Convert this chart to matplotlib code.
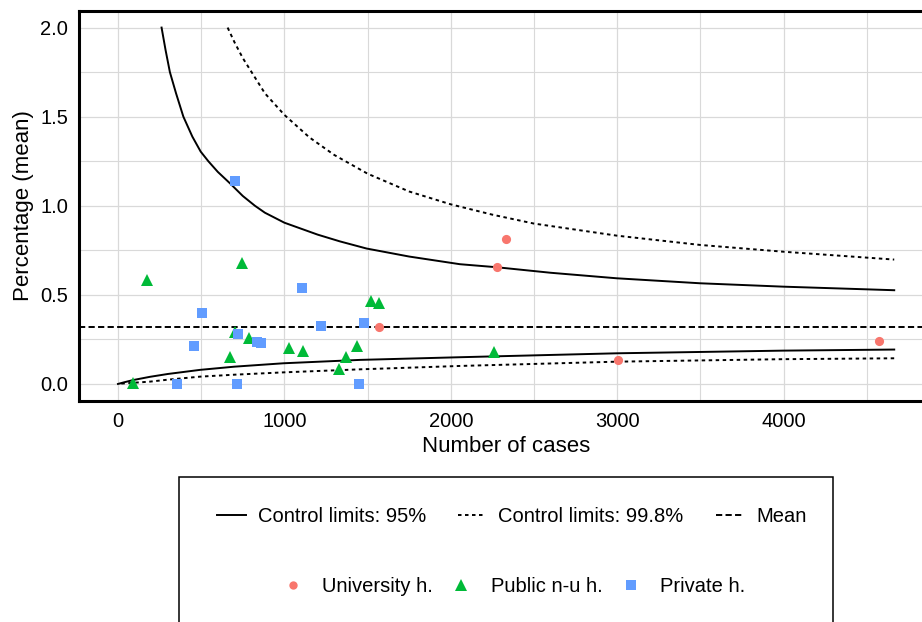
import matplotlib
matplotlib.use("Agg")
import matplotlib.pyplot as plt
from matplotlib.lines import Line2D
from matplotlib.patches import Rectangle
from matplotlib.ticker import MultipleLocator

plt.rcParams['font.family'] = ['Liberation Sans', 'DejaVu Sans']

# ---------------- data ----------------
mean_pct = 0.318

upper95_n = [262, 286, 312, 349, 393, 447, 497, 543, 600, 673, 750, 823, 883, 1000, 1200, 1334,
             1494, 1750, 2055, 2276, 2600, 2997, 3498, 3998, 4665]
upper95_v = [2.0, 1.874, 1.75, 1.631, 1.5, 1.388, 1.304, 1.25, 1.19, 1.126, 1.055, 1.0, 0.961, 0.905,
             0.838, 0.80, 0.76, 0.715, 0.672, 0.655, 0.624, 0.593, 0.565, 0.546, 0.526]

upper998_n = [659, 700, 750, 803, 883, 1000, 1150, 1300, 1500, 1750, 2000, 2250, 2500, 3000, 3500, 4000, 4665]
upper998_v = [2.0, 1.918, 1.829, 1.75, 1.631, 1.51, 1.384, 1.285, 1.18, 1.08, 1.008, 0.95, 0.90, 0.832,
              0.78, 0.742, 0.698]

lower95_n = [0, 40, 92, 192, 300, 493, 700, 994, 1454, 2055, 2997, 3998, 4665]
lower95_v = [0.0, 0.010, 0.022, 0.040, 0.056, 0.079, 0.097, 0.116, 0.135, 0.150, 0.172, 0.187, 0.193]

lower998_n = [20, 100, 192, 300, 493, 700, 994, 1454, 2055, 2997, 3998, 4665]
lower998_v = [0.002, 0.007, 0.013, 0.024, 0.041, 0.052, 0.065, 0.082, 0.101, 0.125, 0.139, 0.144]

univ_n = [1567, 2280, 2334, 3007, 4575]
univ_v = [0.318, 0.658, 0.814, 0.135, 0.241]

public_n = [88, 172, 673, 703, 743, 789, 1026, 1114, 1330, 1368, 1434, 1518, 1570, 2262]
public_v = [0.007, 0.584, 0.153, 0.29, 0.677, 0.26, 0.20, 0.187, 0.082, 0.153, 0.215, 0.468, 0.453, 0.181]

private_n = [353, 459, 503, 703, 713, 719, 835, 860, 1104, 1218, 1446, 1478]
private_v = [0.0, 0.215, 0.397, 1.141, 0.0, 0.279, 0.237, 0.232, 0.541, 0.327, 0.0, 0.340]

x_ticks = [0, 1000, 2000, 3000, 4000]
y_ticks = [0.0, 0.5, 1.0, 1.5, 2.0]

line_labels = ["Control limits: 95%", "Control limits: 99.8%", "Mean"]
group_labels = ["University h.", "Public n-u h.", "Private h."]

# ---------------- styling ----------------
W, H = 922, 622
FS = 14.5
FS_TITLE = 16
C_UNIV, C_PUB, C_PRIV = "#F8766D", "#00BA38", "#619CFF"
LW = 1.4
DOTTED = (0, (1.8, 1.8))
DASHED = (0, (3.2, 1.7))

fig = plt.figure(figsize=(W / 100, H / 100), dpi=100)
left_px, right_px, top_px, bot_px = 79.2, 933.0, 11.0, 400.7
ax = fig.add_axes([left_px / W, 1 - bot_px / H, (right_px - left_px) / W, (bot_px - top_px) / H])

ax.set_xlim(-233, 4898)
ax.set_ylim(-0.094, 2.093)

ax.xaxis.set_minor_locator(MultipleLocator(500))
ax.yaxis.set_minor_locator(MultipleLocator(0.25))
ax.set_xticks(x_ticks)
ax.set_yticks(y_ticks)
ax.set_yticklabels([f"{v:.1f}" for v in y_ticks])
ax.grid(which="major", color="#d9d9d9", lw=0.9)
ax.grid(which="minor", color="#d9d9d9", lw=0.8)
ax.set_axisbelow(True)
ax.tick_params(which="both", length=0, labelsize=FS, colors="black", pad=8)

for s in ["left", "bottom", "top"]:
    ax.spines[s].set_linewidth(2.2)
    ax.spines[s].set_color("black")
ax.spines["right"].set_visible(False)

# lines
ax.axhline(mean_pct, color="black", lw=LW, ls=DASHED)
ax.plot(upper95_n, upper95_v, color="black", lw=LW)
ax.plot(lower95_n, lower95_v, color="black", lw=LW)
ax.plot(upper998_n, upper998_v, color="black", lw=LW, ls=DOTTED)
ax.plot(lower998_n, lower998_v, color="black", lw=LW, ls=DOTTED)

# points
ax.plot(univ_n, univ_v, ls="none", marker="o", ms=6.6, color=C_UNIV, mew=0, zorder=4)
ax.plot(public_n, public_v, ls="none", marker="^", ms=8.6, color=C_PUB, mew=0, zorder=4)
ax.plot(private_n, private_v, ls="none", marker="s", ms=7.2, color=C_PRIV, mew=0, zorder=4)

ax.set_xlabel("Number of cases", fontsize=FS_TITLE, va="center")
ax.xaxis.set_label_coords(0.5, -(446 - bot_px) / (bot_px - top_px))
ax.set_ylabel("Percentage (mean)", fontsize=FS_TITLE, va="center")
ax.yaxis.set_label_coords(-(left_px - 23) / (right_px - left_px), 0.5)

# legend box
fig.add_artist(Rectangle((179 / W, -0.05), (833 - 179) / W, (1 - 477 / H) + 0.05,
                         transform=fig.transFigure, fill=False, ec="black", lw=1.1))

h1 = [Line2D([], [], color="black", lw=LW),
      Line2D([], [], color="black", lw=LW, ls=DOTTED),
      Line2D([], [], color="black", lw=LW, ls=DASHED)]
leg1 = fig.legend(h1, line_labels, loc="center", bbox_to_anchor=(512 / W, 1 - 517 / H),
                  ncol=3, frameon=False, fontsize=FS, handlelength=1.4, handletextpad=0.6,
                  columnspacing=1.6, borderpad=0, borderaxespad=0)

h2 = [Line2D([], [], ls="none", marker="o", ms=6.0, color=C_UNIV, mew=0),
      Line2D([], [], ls="none", marker="^", ms=8.0, color=C_PUB, mew=0),
      Line2D([], [], ls="none", marker="s", ms=6.5, color=C_PRIV, mew=0)]
leg2 = fig.legend(h2, group_labels, loc="center", bbox_to_anchor=(512 / W, 1 - 587 / H),
                  ncol=3, frameon=False, fontsize=FS, handlelength=1.4, handletextpad=0.75,
                  columnspacing=0.72, borderpad=0, borderaxespad=0)

fig.savefig("out.png", dpi=100)
